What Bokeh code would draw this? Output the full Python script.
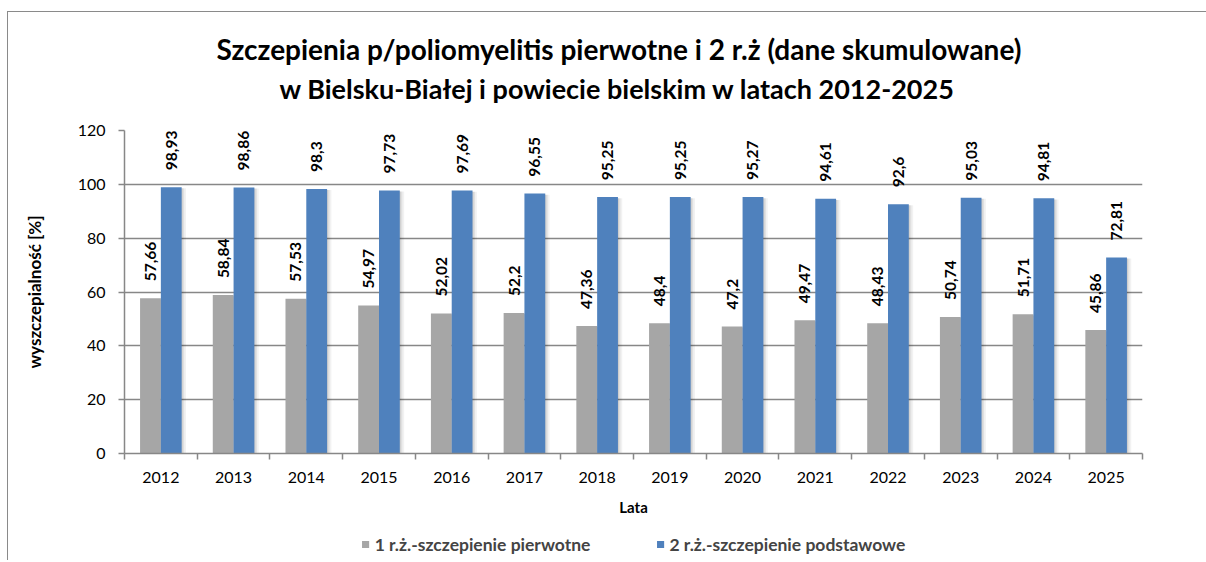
from bokeh.plotting import figure
from bokeh.layouts import column
from bokeh.models import (ColumnDataSource, Range1d, FixedTicker, LabelSet, Title,
                          Legend, LegendItem)
from bokeh.core.properties import value
from bokeh.embed import file_html
from bokeh.resources import INLINE

# ---- data ----
years = ["2012", "2013", "2014", "2015", "2016", "2017", "2018",
         "2019", "2020", "2021", "2022", "2023", "2024", "2025"]
primary = [57.66, 58.84, 57.53, 54.97, 52.02, 52.2, 47.36,
           48.4, 47.2, 49.47, 48.43, 50.74, 51.71, 45.86]
basic = [98.93, 98.86, 98.3, 97.73, 97.69, 96.55, 95.25,
         95.25, 95.27, 94.61, 92.6, 95.03, 94.81, 72.81]
y_ticks = [0, 20, 40, 60, 80, 100, 120]
series_names = ["1 r.ż.-szczepienie pierwotne", "2 r.ż.-szczepienie podstawowe"]
title_lines = ["Szczepienia p/poliomyelitis pierwotne i 2 r.ż (dane skumulowane)",
               "w Bielsku-Białej i powiecie bielskim w latach 2012-2025"]
x_title = "Lata"
y_title = "wyszczepialność [%]"

FONT = "Lato"
GRAY = "#A6A6A6"
BLUE = "#4F81BD"
LINE = "#878787"
BW = 0.286

n = len(years)
centers = [i + 0.5 for i in range(n)]
bounds = [i for i in range(n + 1)]


def fmt(v):
    return str(v).replace(".", ",")


src1 = ColumnDataSource(dict(x=[c - BW / 2 for c in centers], top=primary,
                             lab=[fmt(v) for v in primary]))
src2 = ColumnDataSource(dict(x=[c + BW / 2 for c in centers], top=basic,
                             lab=[fmt(v) for v in basic]))

p = figure(width=1198, height=515, output_backend="svg", toolbar_location=None,
           x_range=Range1d(0, n), y_range=Range1d(0, 120),
           min_border_left=116, min_border_right=64, min_border_top=118,
           min_border_bottom=74, title=None)
p.outline_line_color = None
p.background_fill_color = "white"
p.border_fill_color = "white"

# soft shadows to the right of the bars
for dx, a in [(0.06, 0.05), (0.035, 0.07), (0.015, 0.08)]:
    p.vbar(x=[c + BW / 2 + dx for c in centers], top=[v - 0.4 for v in basic], width=BW,
           fill_color="black", fill_alpha=a, line_color=None)
    p.vbar(x=[c - BW / 2 + dx for c in centers], top=[v - 0.4 for v in primary], width=BW,
           fill_color="black", fill_alpha=a, line_color=None)

r1 = p.vbar(x="x", top="top", width=BW, source=src1, fill_color=GRAY, line_color=None)
r2 = p.vbar(x="x", top="top", width=BW, source=src2, fill_color=BLUE, line_color=None)

for s in (src1, src2):
    p.add_layout(LabelSet(x="x", y="top", text="lab", source=s, angle=90, angle_units="deg",
                          text_align="left", text_baseline="middle", y_offset=17,
                          text_font=value(FONT), text_font_style="bold",
                          text_font_size="15.5px", text_color="black"))

# axes
xa = p.xaxis[0]
xa.ticker = FixedTicker(ticks=centers, minor_ticks=bounds)
xa.major_label_overrides = {c: y for c, y in zip(centers, years)}
xa.major_tick_line_color = None
xa.major_tick_out = 0
xa.minor_tick_in = 0
xa.minor_tick_out = 6
xa.minor_tick_line_color = LINE
xa.minor_tick_line_width = 1.5
xa.axis_line_color = LINE
xa.axis_line_width = 1.5
xa.major_label_text_font = FONT
xa.major_label_text_font_size = "16px"
xa.major_label_text_color = "black"
xa.major_label_standoff = 12
xa.axis_label = x_title
xa.axis_label_text_font = FONT
xa.axis_label_text_font_style = "bold"
xa.axis_label_text_font_size = "15px"
xa.axis_label_text_color = "black"
xa.axis_label_standoff = 12

ya = p.yaxis[0]
ya.ticker = FixedTicker(ticks=y_ticks)
ya.minor_tick_line_color = None
ya.major_tick_in = 0
ya.major_tick_out = 6
ya.major_tick_line_color = LINE
ya.major_tick_line_width = 1.5
ya.axis_line_color = LINE
ya.axis_line_width = 1.5
ya.major_label_text_font = FONT
ya.major_label_text_font_size = "16px"
ya.major_label_text_color = "black"
ya.major_label_standoff = 13
ya.axis_label = y_title
ya.axis_label_text_font = FONT
ya.axis_label_text_font_style = "bold"
ya.axis_label_text_font_size = "17px"
ya.axis_label_text_color = "black"
ya.axis_label_standoff = 30

p.xgrid.grid_line_color = None
p.ygrid.grid_line_color = LINE
p.ygrid.grid_line_width = 1.5
p.ygrid.ticker = FixedTicker(ticks=y_ticks)

# titles
t2 = Title(text=title_lines[1], align="left", offset=155, standoff=51,
           text_font=FONT, text_font_style="bold", text_font_size="27px", text_color="black")
t1 = Title(text=title_lines[0], align="left", offset=92, standoff=-43,
           text_font=FONT, text_font_style="bold", text_font_size="28px", text_color="black")
p.add_layout(t2, "above")
p.add_layout(t1, "above")

# legend strip below the chart (hidden proxy renderers sharing the data)
pl = figure(width=1198, height=33, output_backend="svg", toolbar_location=None,
            x_range=Range1d(0, n), y_range=Range1d(0, 120), x_axis_location=None,
            y_axis_location=None, min_border_left=116, min_border_right=64,
            min_border_top=0, min_border_bottom=0, title=None)
pl.grid.visible = False
pl.outline_line_color = None
l1 = pl.vbar(x="x", top="top", width=BW, source=src1, fill_color=GRAY, line_color=None,
             visible=False)
l2 = pl.vbar(x="x", top="top", width=BW, source=src2, fill_color=BLUE, line_color=None,
             visible=False)
legend = Legend(items=[LegendItem(label=series_names[0], renderers=[l1]),
                       LegendItem(label=series_names[1], renderers=[l2])],
                orientation="horizontal", location="center", padding=0, margin=0,
                spacing=65, glyph_width=9, glyph_height=9, label_standoff=5,
                label_text_font=FONT, label_text_font_style="bold",
                label_text_font_size="17.5px", border_line_color=None,
                background_fill_alpha=0, inactive_fill_alpha=0)
pl.add_layout(legend, "center")

layout = column(p, pl, spacing=0)
layout.styles = {"margin-left": "7px", "margin-top": "11px",
                 "border-left": "1px solid #8a8a8a", "border-top": "1px solid #8a8a8a"}

open("out.html", "w").write(file_html(layout, INLINE))
